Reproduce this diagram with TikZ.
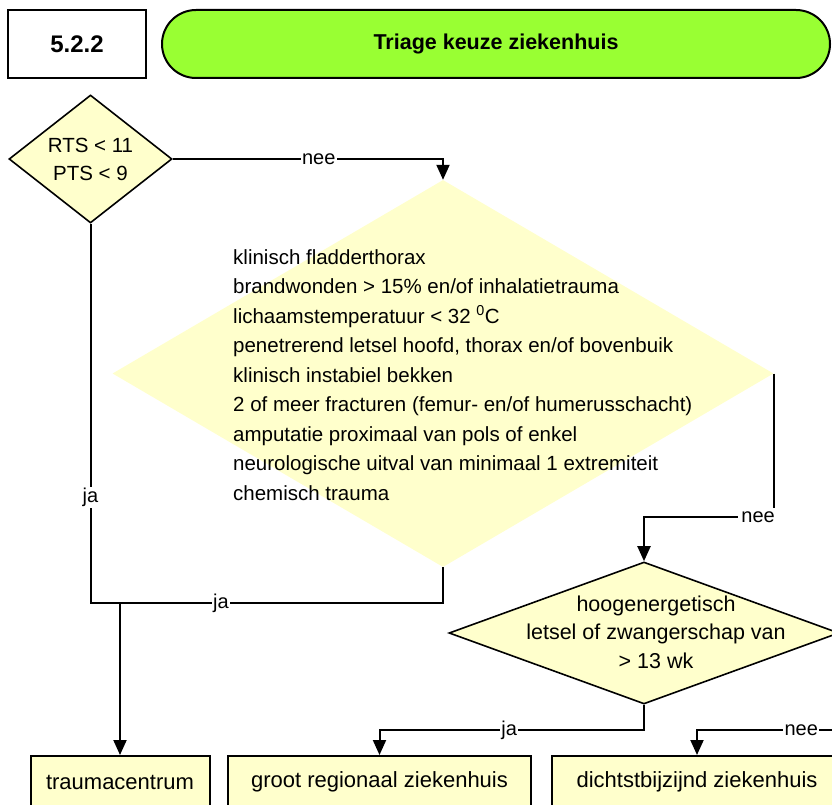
\documentclass[tikz,border=0pt]{standalone}
\usepackage{fontspec}
\setmainfont{Liberation Sans}
\usetikzlibrary{shapes.geometric,arrows.meta}
\definecolor{paleyellow}{HTML}{FFFFCC}
\definecolor{limegreen}{HTML}{99FF33}

\begin{document}
\begin{tikzpicture}[x=1pt,y=-1pt,
  conn/.style={line width=2pt},
  arr/.style={conn,-{Triangle[length=15pt,width=13pt]}},
  lbl/.style={fill=white,inner sep=1.5pt,font=\fontsize{20}{24}\selectfont},
  ybox/.style={draw,fill=paleyellow,line width=2pt,minimum height=52pt,inner sep=0pt,
    font=\fontsize{22}{26}\selectfont},
  choice/.style={diamond,draw,fill=paleyellow,line width=1.6pt,inner sep=0pt}]

\path[use as bounding box] (0,0) rectangle (832,805);
\clip (0,0) rectangle (832,805);

% header
\node[draw,fill=white,line width=2pt,minimum width=138pt,minimum height=68pt,inner sep=0pt,
  font=\fontsize{24}{28}\selectfont\bfseries] (num) at (77,44) {5.2.2};
\node[draw,fill=limegreen,line width=2pt,rounded corners=34pt,minimum width=668pt,
  minimum height=68pt,inner sep=0pt,font=\fontsize{21.5}{26}\selectfont\bfseries]
  (title) at (496,44) {Triage keuze ziekenhuis};

% first decision
\node[choice,minimum width=163pt,minimum height=128pt,align=center,
  font=\fontsize{20.5}{28}\selectfont] (d1) at (90.5,159) {RTS < 11\\PTS < 9};

% criteria decision (no outline)
\node[diamond,fill=paleyellow,minimum width=661pt,minimum height=387pt,inner sep=0pt]
  (big) at (443,373.5) {};
\node[anchor=north west,align=left,inner sep=0pt,font=\fontsize{20.5}{29.5}\selectfont]
  (crit) at (233,249) {klinisch fladderthorax\\
  brandwonden > 15\% en/of inhalatietrauma\\
  lichaamstemperatuur < 32 \textsuperscript{0}C\\
  penetrerend letsel hoofd, thorax en/of bovenbuik\\
  klinisch instabiel bekken\\
  2 of meer fracturen (femur- en/of humerusschacht)\\
  amputatie proximaal van pols of enkel\\
  neurologische uitval van minimaal 1 extremiteit\\
  chemisch trauma};

% energy / pregnancy decision
\node[choice,minimum width=390pt,minimum height=142pt] (small) at (644,633) {};
\node[align=center,inner sep=0pt,font=\fontsize{21.5}{28.5}\selectfont]
  (smalltxt) at (656,632) {hoogenergetisch\\letsel of zwangerschap van\\> 13 wk};

% destinations
\node[ybox,minimum width=179pt] (trauma) at (120,782) {traumacentrum};
\node[ybox,minimum width=303pt] (groot) at (379.5,782) {groot regionaal ziekenhuis};
\node[ybox,minimum width=290pt] (dicht) at (697,782) {dichtstbijzijnd ziekenhuis};

% connectors
\draw[arr] (d1.east) -- node[lbl,pos=0.54]{nee} (d1.east -| big.north) -- (big.north);
\draw[arr] (big.east) -- (big.east |- 0,517) coordinate (k1)
  -- node[lbl,pos=0.12,inner xsep=3pt,inner ysep=4pt]{nee} (k1 -| small.north) -- (small.north);
\draw[conn] (big.south) -- (big.south |- 0,603) coordinate (k2)
  -- node[lbl,pos=0.63]{ja} (k2 -| d1.south)
  -- node[lbl,pos=0.278]{ja} (d1.south);
\draw[arr] (trauma.north |- k2) -- (trauma.north);
\draw[arr] (small.south) -- (small.south |- 0,730) coordinate (k3)
  -- node[lbl,pos=0.51]{ja} (k3 -| groot.north) -- (groot.north);
\draw[arr] (small.east) -- ++(20,0) coordinate (k4) -- (k4 |- k3) coordinate (k5)
  -- node[lbl,pos=0.36]{nee} (k5 -| dicht.north) -- (dicht.north);
\end{tikzpicture}
\end{document}
